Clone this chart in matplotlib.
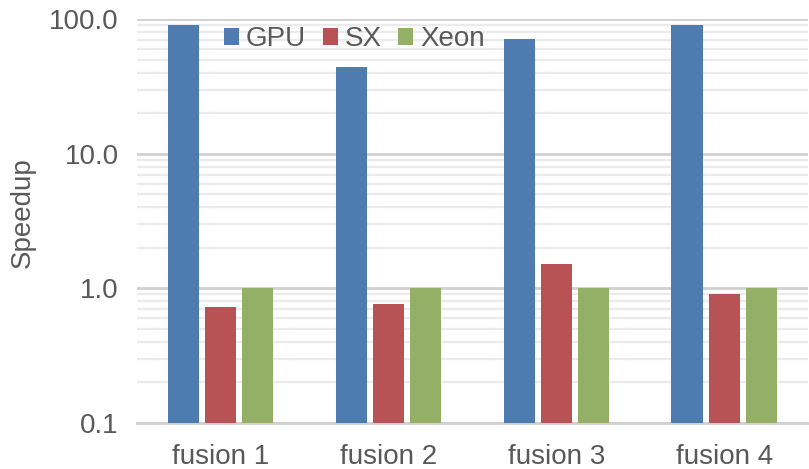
import matplotlib
matplotlib.use("Agg")
import matplotlib.pyplot as plt
import numpy as np
from matplotlib.ticker import LogLocator, FixedLocator, NullFormatter

categories = ["fusion 1", "fusion 2", "fusion 3", "fusion 4"]
series_names = ["GPU", "SX", "Xeon"]
gpu = [91, 44, 71, 91]
sx = [0.73, 0.76, 1.52, 0.90]
xeon = [1.0, 1.0, 1.0, 1.0]
yticks = [0.1, 1, 10, 100]
yticklabels = ["0.1", "1.0", "10.0", "100.0"]

colors = ["#4E7CB1", "#B85254", "#93B066"]
txt = "#595959"

plt.rcParams["font.family"] = ["Liberation Sans", "DejaVu Sans"]

fig = plt.figure(figsize=(8.09, 4.69), dpi=100)
ax = fig.add_axes([0.169, 0.0987, 0.830, 0.8603])

x = np.arange(len(categories))
w = 0.185
off = 0.222
ax.set_yscale("log", nonpositive="clip")
for i, (vals, name) in enumerate(zip([gpu, sx, xeon], series_names)):
    ax.bar(x + (i - 1) * off, vals, width=w, color=colors[i], label=name,
           zorder=3)

ax.set_ylim(0.1, 100)
ax.set_xlim(-0.5, len(categories) - 0.5)
ax.yaxis.set_major_locator(FixedLocator(yticks))
ax.set_yticklabels(yticklabels)
ax.yaxis.set_minor_locator(LogLocator(base=10, subs=np.arange(2, 10)))
ax.yaxis.set_minor_formatter(NullFormatter())
ax.grid(which="major", axis="y", color="#d0d0d0", linewidth=2, zorder=0)
ax.grid(which="minor", axis="y", color="#ebebeb", linewidth=1.6, zorder=0)
ax.set_xticks(x)
ax.set_xticklabels(categories)
ax.tick_params(axis="both", which="both", length=0, labelsize=20, colors=txt)
ax.tick_params(axis="x", pad=15)
ax.tick_params(axis="y", pad=13)
for s in ["top", "right", "left"]:
    ax.spines[s].set_visible(False)
ax.spines["bottom"].set_color("#d0d0d0")
ax.spines["bottom"].set_linewidth(2)
ax.set_ylabel("Speedup", fontsize=20, color=txt)
ax.yaxis.set_label_coords(-0.150, 0.52)

leg = ax.legend(loc="center left", bbox_to_anchor=(0.13, 0.95), ncol=3, frameon=False,
                fontsize=20, handlelength=0.54, handleheight=0.54, handletextpad=0.25,
                columnspacing=0.6, borderaxespad=0, borderpad=0)
for t in leg.get_texts():
    t.set_color(txt)

fig.savefig("out.png", dpi=100)
